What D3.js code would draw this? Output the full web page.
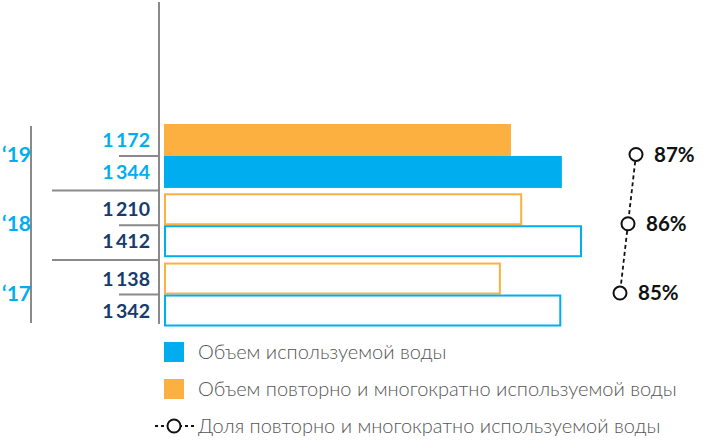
<!DOCTYPE html>
<html><head><meta charset="utf-8">
<script src="https://cdn.jsdelivr.net/npm/d3@7"></script>
<style>
html,body{margin:0;padding:0;background:#fff;}
svg{display:block;font-family:Lato,"Open Sans",sans-serif;}
</style></head>
<body>
<svg id="c" width="720" height="448"></svg>
<script>
const years = ["2019","2018","2017"];
const yearLabels = ["\u201819","\u201818","\u201817"];
const totalWater = [1344, 1412, 1342];
const reusedWater = [1172, 1210, 1138];
const reuseShare = [87, 86, 85];
const valueLabels = {total:["1\u2009344","1\u2009412","1\u2009342"], reuse:["1\u2009172","1\u2009210","1\u2009138"]};
const legendLabels = ["Объем используемой воды","Объем повторно и многократно используемой воды","Доля повторно и многократно используемой воды"];

const BLUE = "#00AEEF", ORANGE = "#FBB040", NAVY = "#163C6E", GRAY = "#8a8a8a";
const svg = d3.select("#c");

const x = d3.scaleLinear().domain([0, 1412]).range([164, 582]);
const yG = d3.scaleBand().domain(years).range([124, 326.5]).paddingInner(0.077).paddingOuter(0);
const yS = d3.scaleBand().domain(["reuse","total"]).range([0, yG.bandwidth()]);
const xP = d3.scaleLinear().domain([85, 87]).range([620, 636]);

// axis lines
svg.append("line").attr("x1",159).attr("x2",159).attr("y1",2).attr("y2",324).attr("stroke",GRAY).attr("stroke-width",2);
svg.append("line").attr("x1",31).attr("x2",31).attr("y1",126).attr("y2",323).attr("stroke",GRAY).attr("stroke-width",2);

years.forEach((yr,i)=>{
  const g0 = yG(yr);
  svg.append("line").attr("x1",119).attr("x2",159).attr("y1",g0+yS("total")).attr("y2",g0+yS("total")).attr("stroke",GRAY).attr("stroke-width",2);
  if(i>0){
    const ys = g0 - (yG.step()-yG.bandwidth())/2;
    svg.append("line").attr("x1",52).attr("x2",159).attr("y1",ys).attr("y2",ys).attr("stroke",GRAY).attr("stroke-width",2);
  }
  const solid = i===0;
  [["reuse",reusedWater[i],ORANGE],["total",totalWater[i],BLUE]].forEach(([k,v,col])=>{
    const yy = g0 + yS(k), h = yS.bandwidth();
    if(solid){
      svg.append("rect").attr("x",x(0)).attr("y",yy).attr("width",x(v)-x(0)).attr("height",h).attr("fill",col);
    } else {
      svg.append("rect").attr("x",x(0)+1).attr("y",yy+1).attr("width",x(v)-x(0)-2).attr("height",h-2)
        .attr("fill","none").attr("stroke",col).attr("stroke-width",2);
    }
    svg.append("text").attr("x",150).attr("y",yy+h/2).attr("dy","0.36em").attr("text-anchor","end")
      .attr("font-size",19.5).attr("font-weight",700).attr("fill",solid?BLUE:NAVY).text(valueLabels[k][i]);
  });
  svg.append("text").attr("x",2).attr("y",g0+yG.bandwidth()/2 - 1.5).attr("dy","0.36em")
    .attr("font-size",21).attr("font-weight",700).attr("fill",BLUE).text(yearLabels[i]);
});

// share line
const pts = years.map((yr,i)=>[xP(reuseShare[i]), yG(yr)+yG.bandwidth()/2 - 1.5]);
svg.append("path").attr("d",d3.line()(pts)).attr("fill","none").attr("stroke","#111").attr("stroke-width",1.8).attr("stroke-dasharray","4,3");
pts.forEach((p,i)=>{
  svg.append("circle").attr("cx",p[0]).attr("cy",p[1]).attr("r",6.5).attr("fill","#fff").attr("stroke","#111").attr("stroke-width",2);
  svg.append("text").attr("x",p[0]+18).attr("y",p[1]).attr("dy","0.36em").attr("font-size",20.5).attr("font-weight",700).attr("fill","#111").text(reuseShare[i]+"%");
});

// legend
const lg = [352, 389, 426];
svg.append("rect").attr("x",164).attr("y",lg[0]-10).attr("width",20).attr("height",20).attr("fill",BLUE);
svg.append("rect").attr("x",164).attr("y",lg[1]-10).attr("width",20).attr("height",20).attr("fill",ORANGE);
svg.append("line").attr("x1",155).attr("x2",194).attr("y1",lg[2]).attr("y2",lg[2]).attr("stroke","#111").attr("stroke-width",1.8).attr("stroke-dasharray","3,3");
svg.append("circle").attr("cx",174).attr("cy",lg[2]).attr("r",6.5).attr("fill","#fff").attr("stroke","#111").attr("stroke-width",2);
legendLabels.forEach((t,i)=>{
  svg.append("text").attr("x",198).attr("y",lg[i]).attr("dy","0.36em").attr("font-size",20).attr("font-weight",300).attr("fill","#555").text(t);
});
</script>
</body></html>
